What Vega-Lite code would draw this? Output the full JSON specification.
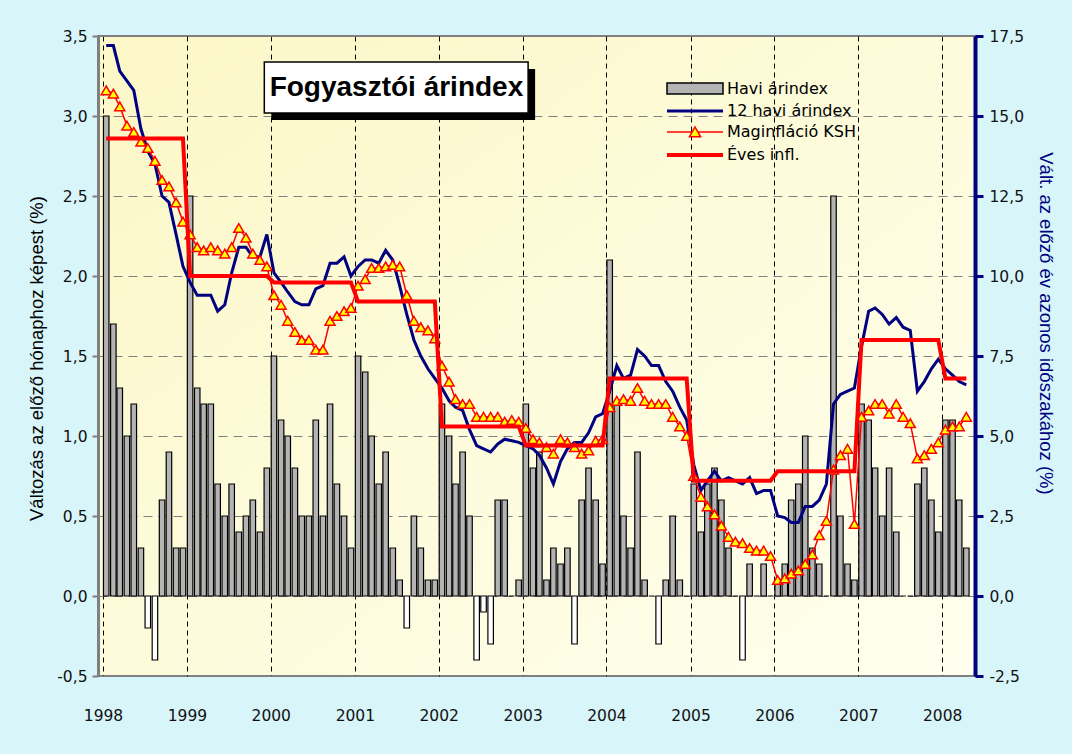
{
  "$schema": "https://vega.github.io/schema/vega-lite/v6.json",
  "width": 877,
  "height": 640,
  "autosize": {"type": "none"},
  "padding": {"left": 98, "top": 36, "right": 97, "bottom": 78},
  "background": "#d8f5fa",
  "config": {
    "view": {
      "fill": {"gradient": "linear", "x1": 0, "y1": 0, "x2": 1, "y2": 1,
        "stops": [{"offset": 0, "color": "#fbf7c6"}, {"offset": 1, "color": "#ffffef"}]},
      "stroke": "#808080", "strokeWidth": 2
    },
    "legend": {"orient": "none", "padding": 0, "labelFont": "DejaVu Sans", "labelFontSize": 16, "labelColor": "black", "labelLimit": 400}
  },
  "datasets": {
    "cpi": [
    {"d":"1998-01-15","h":3.0,"n":17.2,"m":15.8,"e":14.3},
    {"d":"1998-02-15","h":1.7,"n":17.2,"m":15.7,"e":14.3},
    {"d":"1998-03-15","h":1.3,"n":16.4,"m":15.3,"e":14.3},
    {"d":"1998-04-15","h":1.0,"n":16.1,"m":14.7,"e":14.3},
    {"d":"1998-05-15","h":1.2,"n":15.8,"m":14.5,"e":14.3},
    {"d":"1998-06-15","h":0.3,"n":14.6,"m":14.2,"e":14.3},
    {"d":"1998-07-15","h":-0.2,"n":13.9,"m":14.0,"e":14.3},
    {"d":"1998-08-15","h":-0.4,"n":13.5,"m":13.6,"e":14.3},
    {"d":"1998-09-15","h":0.6,"n":12.5,"m":13.0,"e":14.3},
    {"d":"1998-10-15","h":0.9,"n":12.3,"m":12.8,"e":14.3},
    {"d":"1998-11-15","h":0.3,"n":11.3,"m":12.3,"e":14.3},
    {"d":"1998-12-15","h":0.3,"n":10.3,"m":11.7,"e":14.3},
    {"d":"1999-01-15","h":2.5,"n":9.8,"m":11.3,"e":10.0},
    {"d":"1999-02-15","h":1.3,"n":9.4,"m":10.9,"e":10.0},
    {"d":"1999-03-15","h":1.2,"n":9.4,"m":10.8,"e":10.0},
    {"d":"1999-04-15","h":1.2,"n":9.4,"m":10.9,"e":10.0},
    {"d":"1999-05-15","h":0.7,"n":8.9,"m":10.8,"e":10.0},
    {"d":"1999-06-15","h":0.5,"n":9.1,"m":10.7,"e":10.0},
    {"d":"1999-07-15","h":0.7,"n":10.1,"m":10.9,"e":10.0},
    {"d":"1999-08-15","h":0.4,"n":10.9,"m":11.5,"e":10.0},
    {"d":"1999-09-15","h":0.5,"n":10.9,"m":11.2,"e":10.0},
    {"d":"1999-10-15","h":0.6,"n":10.6,"m":10.7,"e":10.0},
    {"d":"1999-11-15","h":0.4,"n":10.6,"m":10.5,"e":10.0},
    {"d":"1999-12-15","h":0.8,"n":11.3,"m":10.3,"e":10.0},
    {"d":"2000-01-15","h":1.5,"n":10.1,"m":9.4,"e":9.8},
    {"d":"2000-02-15","h":1.1,"n":9.8,"m":9.1,"e":9.8},
    {"d":"2000-03-15","h":1.0,"n":9.5,"m":8.6,"e":9.8},
    {"d":"2000-04-15","h":0.8,"n":9.2,"m":8.25,"e":9.8},
    {"d":"2000-05-15","h":0.5,"n":9.1,"m":8.0,"e":9.8},
    {"d":"2000-06-15","h":0.5,"n":9.1,"m":8.0,"e":9.8},
    {"d":"2000-07-15","h":1.1,"n":9.6,"m":7.7,"e":9.8},
    {"d":"2000-08-15","h":0.5,"n":9.7,"m":7.7,"e":9.8},
    {"d":"2000-09-15","h":1.2,"n":10.4,"m":8.6,"e":9.8},
    {"d":"2000-10-15","h":0.7,"n":10.4,"m":8.75,"e":9.8},
    {"d":"2000-11-15","h":0.5,"n":10.6,"m":8.9,"e":9.8},
    {"d":"2000-12-15","h":0.3,"n":10.0,"m":9.0,"e":9.8},
    {"d":"2001-01-15","h":1.5,"n":10.3,"m":9.7,"e":9.2},
    {"d":"2001-02-15","h":1.4,"n":10.5,"m":9.9,"e":9.2},
    {"d":"2001-03-15","h":1.0,"n":10.5,"m":10.25,"e":9.2},
    {"d":"2001-04-15","h":0.7,"n":10.4,"m":10.25,"e":9.2},
    {"d":"2001-05-15","h":0.9,"n":10.8,"m":10.3,"e":9.2},
    {"d":"2001-06-15","h":0.3,"n":10.5,"m":10.35,"e":9.2},
    {"d":"2001-07-15","h":0.1,"n":9.7,"m":10.3,"e":9.2},
    {"d":"2001-08-15","h":-0.2,"n":8.8,"m":9.4,"e":9.2},
    {"d":"2001-09-15","h":0.5,"n":8.0,"m":8.6,"e":9.2},
    {"d":"2001-10-15","h":0.3,"n":7.5,"m":8.4,"e":9.2},
    {"d":"2001-11-15","h":0.1,"n":7.1,"m":8.3,"e":9.2},
    {"d":"2001-12-15","h":0.1,"n":6.8,"m":8.05,"e":9.2},
    {"d":"2002-01-15","h":1.2,"n":6.5,"m":7.2,"e":5.3},
    {"d":"2002-02-15","h":1.0,"n":6.1,"m":6.7,"e":5.3},
    {"d":"2002-03-15","h":0.7,"n":5.9,"m":6.15,"e":5.3},
    {"d":"2002-04-15","h":0.9,"n":5.8,"m":6.0,"e":5.3},
    {"d":"2002-05-15","h":0.5,"n":5.2,"m":6.0,"e":5.3},
    {"d":"2002-06-15","h":-0.4,"n":4.7,"m":5.6,"e":5.3},
    {"d":"2002-07-15","h":-0.1,"n":4.6,"m":5.6,"e":5.3},
    {"d":"2002-08-15","h":-0.3,"n":4.5,"m":5.6,"e":5.3},
    {"d":"2002-09-15","h":0.6,"n":4.75,"m":5.6,"e":5.3},
    {"d":"2002-10-15","h":0.6,"n":4.9,"m":5.45,"e":5.3},
    {"d":"2002-11-15","h":0.0,"n":4.85,"m":5.5,"e":5.3},
    {"d":"2002-12-15","h":0.1,"n":4.8,"m":5.45,"e":5.3},
    {"d":"2003-01-15","h":1.2,"n":4.7,"m":5.25,"e":4.7},
    {"d":"2003-02-15","h":0.8,"n":4.6,"m":4.9,"e":4.7},
    {"d":"2003-03-15","h":0.9,"n":4.4,"m":4.8,"e":4.7},
    {"d":"2003-04-15","h":0.1,"n":4.0,"m":4.65,"e":4.7},
    {"d":"2003-05-15","h":0.3,"n":3.5,"m":4.45,"e":4.7},
    {"d":"2003-06-15","h":0.2,"n":4.2,"m":4.9,"e":4.7},
    {"d":"2003-07-15","h":0.3,"n":4.6,"m":4.8,"e":4.7},
    {"d":"2003-08-15","h":-0.3,"n":4.8,"m":4.65,"e":4.7},
    {"d":"2003-09-15","h":0.6,"n":4.8,"m":4.45,"e":4.7},
    {"d":"2003-10-15","h":0.8,"n":5.1,"m":4.55,"e":4.7},
    {"d":"2003-11-15","h":0.6,"n":5.6,"m":4.85,"e":4.7},
    {"d":"2003-12-15","h":0.2,"n":5.7,"m":4.9,"e":4.7},
    {"d":"2004-01-15","h":2.1,"n":6.4,"m":5.9,"e":6.8},
    {"d":"2004-02-15","h":1.2,"n":7.2,"m":6.1,"e":6.8},
    {"d":"2004-03-15","h":0.5,"n":6.8,"m":6.15,"e":6.8},
    {"d":"2004-04-15","h":0.3,"n":6.9,"m":6.1,"e":6.8},
    {"d":"2004-05-15","h":0.9,"n":7.7,"m":6.5,"e":6.8},
    {"d":"2004-06-15","h":0.1,"n":7.5,"m":6.1,"e":6.8},
    {"d":"2004-07-15","h":0.0,"n":7.2,"m":6.0,"e":6.8},
    {"d":"2004-08-15","h":-0.3,"n":7.2,"m":6.0,"e":6.8},
    {"d":"2004-09-15","h":0.1,"n":6.7,"m":6.0,"e":6.8},
    {"d":"2004-10-15","h":0.5,"n":6.4,"m":5.6,"e":6.8},
    {"d":"2004-11-15","h":0.1,"n":5.9,"m":5.3,"e":6.8},
    {"d":"2004-12-15","h":0.0,"n":5.5,"m":5.0,"e":6.8},
    {"d":"2005-01-15","h":0.7,"n":4.1,"m":3.75,"e":3.6},
    {"d":"2005-02-15","h":0.4,"n":3.3,"m":3.1,"e":3.6},
    {"d":"2005-03-15","h":0.7,"n":3.6,"m":2.8,"e":3.6},
    {"d":"2005-04-15","h":0.8,"n":3.9,"m":2.55,"e":3.6},
    {"d":"2005-05-15","h":0.6,"n":3.6,"m":2.2,"e":3.6},
    {"d":"2005-06-15","h":0.3,"n":3.7,"m":1.85,"e":3.6},
    {"d":"2005-07-15","h":0.0,"n":3.6,"m":1.7,"e":3.6},
    {"d":"2005-08-15","h":-0.4,"n":3.5,"m":1.65,"e":3.6},
    {"d":"2005-09-15","h":0.2,"n":3.7,"m":1.5,"e":3.6},
    {"d":"2005-10-15","h":0.0,"n":3.2,"m":1.42,"e":3.6},
    {"d":"2005-11-15","h":0.2,"n":3.3,"m":1.42,"e":3.6},
    {"d":"2005-12-15","h":0.0,"n":3.3,"m":1.25,"e":3.6},
    {"d":"2006-01-15","h":0.1,"n":2.5,"m":0.5,"e":3.9},
    {"d":"2006-02-15","h":0.2,"n":2.45,"m":0.55,"e":3.9},
    {"d":"2006-03-15","h":0.6,"n":2.3,"m":0.7,"e":3.9},
    {"d":"2006-04-15","h":0.7,"n":2.3,"m":0.8,"e":3.9},
    {"d":"2006-05-15","h":1.0,"n":2.8,"m":1.0,"e":3.9},
    {"d":"2006-06-15","h":0.3,"n":2.8,"m":1.3,"e":3.9},
    {"d":"2006-07-15","h":0.2,"n":3.0,"m":1.9,"e":3.9},
    {"d":"2006-08-15","h":0.0,"n":3.5,"m":2.35,"e":3.9},
    {"d":"2006-09-15","h":2.5,"n":6.0,"m":3.95,"e":3.9},
    {"d":"2006-10-15","h":0.5,"n":6.3,"m":4.4,"e":3.9},
    {"d":"2006-11-15","h":0.2,"n":6.4,"m":4.6,"e":3.9},
    {"d":"2006-12-15","h":0.1,"n":6.5,"m":2.25,"e":3.9},
    {"d":"2007-01-15","h":1.2,"n":7.8,"m":5.6,"e":8.0},
    {"d":"2007-02-15","h":1.1,"n":8.9,"m":5.8,"e":8.0},
    {"d":"2007-03-15","h":0.8,"n":9.0,"m":6.0,"e":8.0},
    {"d":"2007-04-15","h":0.5,"n":8.8,"m":6.0,"e":8.0},
    {"d":"2007-05-15","h":0.8,"n":8.5,"m":5.7,"e":8.0},
    {"d":"2007-06-15","h":0.4,"n":8.7,"m":6.0,"e":8.0},
    {"d":"2007-07-15","h":0.0,"n":8.4,"m":5.6,"e":8.0},
    {"d":"2007-08-15","h":0.0,"n":8.3,"m":5.4,"e":8.0},
    {"d":"2007-09-15","h":0.7,"n":6.4,"m":4.3,"e":8.0},
    {"d":"2007-10-15","h":0.8,"n":6.7,"m":4.4,"e":8.0},
    {"d":"2007-11-15","h":0.6,"n":7.1,"m":4.6,"e":8.0},
    {"d":"2007-12-15","h":0.4,"n":7.4,"m":4.8,"e":8.0},
    {"d":"2008-01-15","h":1.1,"n":7.1,"m":5.2,"e":6.8},
    {"d":"2008-02-15","h":1.1,"n":6.9,"m":5.3,"e":6.8},
    {"d":"2008-03-15","h":0.6,"n":6.7,"m":5.3,"e":6.8},
    {"d":"2008-04-15","h":0.3,"n":6.6,"m":5.6,"e":6.8}
    ],
    "cim": [{"label": "Fogyasztói árindex"}]
  },
  "layer": [
    {
      "layer": [
        {
          "data": {"name": "cpi"},
          "mark": {"type": "bar", "width": 5.5, "stroke": "black", "strokeWidth": 1.2},
          "encoding": {
            "x": {
              "field": "d", "type": "temporal",
              "scale": {"type": "utc", "domain": [{"year": 1998, "month": 1, "date": 1, "utc": true}, {"year": 2008, "month": 5, "date": 1, "utc": true}]},
              "axis": {
                "values": [
                  {"year": 1998, "month": 1, "date": 1, "utc": true},
                  {"year": 1999, "month": 1, "date": 1, "utc": true},
                  {"year": 2000, "month": 1, "date": 1, "utc": true},
                  {"year": 2001, "month": 1, "date": 1, "utc": true},
                  {"year": 2002, "month": 1, "date": 1, "utc": true},
                  {"year": 2003, "month": 1, "date": 1, "utc": true},
                  {"year": 2004, "month": 1, "date": 1, "utc": true},
                  {"year": 2005, "month": 1, "date": 1, "utc": true},
                  {"year": 2006, "month": 1, "date": 1, "utc": true},
                  {"year": 2007, "month": 1, "date": 1, "utc": true},
                  {"year": 2008, "month": 1, "date": 1, "utc": true}
                ],
                "format": "%Y", "formatType": "utc",
                "title": null,
                "labelFont": "DejaVu Sans", "labelFontSize": 15.5, "labelColor": "#111111",
                "labelPadding": 32, "labelAngle": 0, "labelFlush": false, "labelOverlap": false,
                "ticks": false, "tickSize": 0, "domain": false,
                "grid": true, "gridColor": "black", "gridDash": [5, 4], "gridWidth": 1, "gridOpacity": 1
              }
            },
            "y": {
              "field": "h", "type": "quantitative",
              "scale": {"domain": [-0.5, 3.5], "nice": false, "zero": false},
              "axis": {
                "values": [-0.5, 0, 0.5, 1, 1.5, 2, 2.5, 3, 3.5],
                "labelExpr": "replace(replace(format(datum.value, '.1f'), '.', ','), '−', '-')",
                "title": "Változás az előző hónaphoz képest (%)",
                "titleFont": "Liberation Sans", "titleFontSize": 18.5, "titleFontWeight": "normal", "titleColor": "black",
                "titleAngle": -90, "titleX": -62, "titleY": 322, "titleAlign": "center", "titleBaseline": "middle",
                "labelFont": "DejaVu Sans", "labelFontSize": 15.5, "labelColor": "#111111", "labelPadding": 5,
                "domainColor": "#808080", "domainWidth": 3,
                "tickColor": "#808080", "tickWidth": 2, "tickSize": 6,
                "grid": true, "gridColor": "#808080", "gridDash": [9, 6], "gridWidth": 1, "gridOpacity": 1
              }
            },
            "fill": {
              "datum": "Havi árindex", "type": "nominal",
              "scale": {"domain": ["Havi árindex"], "range": ["#b4b4b4"]},
              "condition": {"test": "datum.h < 0", "value": "white"},
              "legend": {
                "title": null, "orient": "none", "legendX": 589, "legendY": 44.5,
                "symbolType": "M-5,-1H5V1H-5Z", "symbolSize": 125.44,
                "symbolFillColor": "#b4b4b4", "symbolStrokeColor": "black", "symbolStrokeWidth": 1.5,
                "labelOffset": 24
              }
            }
          }
        },
        {
          "data": {"name": "cim"},
          "mark": {"type": "rect", "fill": "black", "xOffset": 7, "x2Offset": 7, "yOffset": 7, "y2Offset": 7},
          "encoding": {
            "x": {"datum": {"expr": "utc(1999, 11, 4)"}, "type": "temporal", "scale": {"type": "utc"}},
            "x2": {"datum": {"expr": "utc(2003, 0, 25)"}},
            "y": {"datum": 3.3375, "type": "quantitative"},
            "y2": {"datum": 3.019}
          }
        },
        {
          "data": {"name": "cim"},
          "mark": {"type": "rect", "fill": "white", "stroke": "black", "strokeWidth": 1.5},
          "encoding": {
            "x": {"datum": {"expr": "utc(1999, 11, 4)"}, "type": "temporal", "scale": {"type": "utc"}},
            "x2": {"datum": {"expr": "utc(2003, 0, 25)"}},
            "y": {"datum": 3.3375, "type": "quantitative"},
            "y2": {"datum": 3.019}
          }
        },
        {
          "data": {"name": "cim"},
          "mark": {"type": "text", "font": "Liberation Sans", "fontWeight": "bold", "fontSize": 28, "align": "center", "baseline": "alphabetic", "fill": "black"},
          "encoding": {
            "text": {"field": "label", "type": "nominal"},
            "x": {"datum": {"expr": "utc(2001, 6, 1)"}, "type": "temporal", "scale": {"type": "utc"}},
            "y": {"datum": 3.128, "type": "quantitative"}
          }
        }
      ]
    },
    {
      "data": {"name": "cpi"},
      "layer": [
        {
          "mark": {"type": "line", "strokeWidth": 3},
          "encoding": {
            "x": {"field": "d", "type": "temporal", "scale": {"type": "utc"}},
            "y": {
              "field": "n", "type": "quantitative",
              "scale": {"domain": [-2.5, 17.5], "nice": false, "zero": false},
              "axis": {
                "orient": "right",
                "values": [-2.5, 0, 2.5, 5, 7.5, 10, 12.5, 15, 17.5],
                "labelExpr": "replace(replace(format(datum.value, '.1f'), '.', ','), '−', '-')",
                "title": "Vált. az előző év azonos időszakához (%)",
                "titleFont": "Liberation Sans", "titleFontSize": 18.5, "titleFontWeight": "normal", "titleColor": "#000080",
                "titleAngle": 90, "titleX": 70, "titleY": 287, "titleAlign": "center", "titleBaseline": "middle",
                "labelFont": "DejaVu Sans", "labelFontSize": 15.5, "labelColor": "#111111", "labelPadding": 6,
                "domainColor": "#000080", "domainWidth": 4,
                "tickColor": "#000080", "tickWidth": 3, "tickSize": 8,
                "grid": false
              }
            },
            "stroke": {
              "datum": "12 havi árindex", "type": "nominal",
              "scale": {"domain": ["12 havi árindex"], "range": ["#000080"]},
              "legend": {
                "title": null, "orient": "none", "legendX": 589, "legendY": 67,
                "symbolType": "M-5,0H5", "symbolSize": 125.44, "symbolStrokeWidth": 3,
                "labelOffset": 24
              }
            }
          }
        },
        {
          "mark": {"type": "line", "stroke": "#ff0000", "strokeWidth": 1.5},
          "encoding": {
            "x": {"field": "d", "type": "temporal", "scale": {"type": "utc"}},
            "y": {"field": "m", "type": "quantitative", "title": "Vált. az előző év azonos időszakához (%)"}
          }
        },
        {
          "mark": {"type": "point", "shape": "triangle-up", "size": 100, "filled": true, "fill": "#ffff00", "strokeWidth": 1.5, "opacity": 1, "fillOpacity": 1, "strokeOpacity": 1},
          "encoding": {
            "x": {"field": "d", "type": "temporal", "scale": {"type": "utc"}},
            "y": {"field": "m", "type": "quantitative", "title": "Vált. az előző év azonos időszakához (%)"},
            "stroke": {
              "datum": "Maginfláció KSH", "type": "nominal",
              "scale": {"domain": ["Maginfláció KSH"], "range": ["#ff0000"]},
              "legend": {
                "title": null, "orient": "none", "legendX": 589, "legendY": 88,
                "symbolType": "M-5,0H-0.6M0.6,0H5M-1,0.85L0,-0.9L1,0.85Z", "symbolSize": 125.44,
                "symbolFillColor": "#ffff00", "symbolStrokeWidth": 1.5,
                "labelOffset": 24
              }
            }
          }
        },
        {
          "mark": {"type": "line", "strokeWidth": 4},
          "encoding": {
            "x": {"field": "d", "type": "temporal", "scale": {"type": "utc"}},
            "y": {"field": "e", "type": "quantitative", "title": "Vált. az előző év azonos időszakához (%)"},
            "stroke": {
              "datum": "Éves infl.", "type": "nominal",
              "scale": {"domain": ["Éves infl."], "range": ["#ff0000"]},
              "legend": {
                "title": null, "orient": "none", "legendX": 589, "legendY": 111,
                "symbolType": "M-5,0H5", "symbolSize": 125.44, "symbolStrokeWidth": 4,
                "labelOffset": 24
              }
            }
          }
        }
      ],
      "resolve": {"scale": {"stroke": "independent"}}
    }
  ],
  "resolve": {"scale": {"y": "independent"}}
}
